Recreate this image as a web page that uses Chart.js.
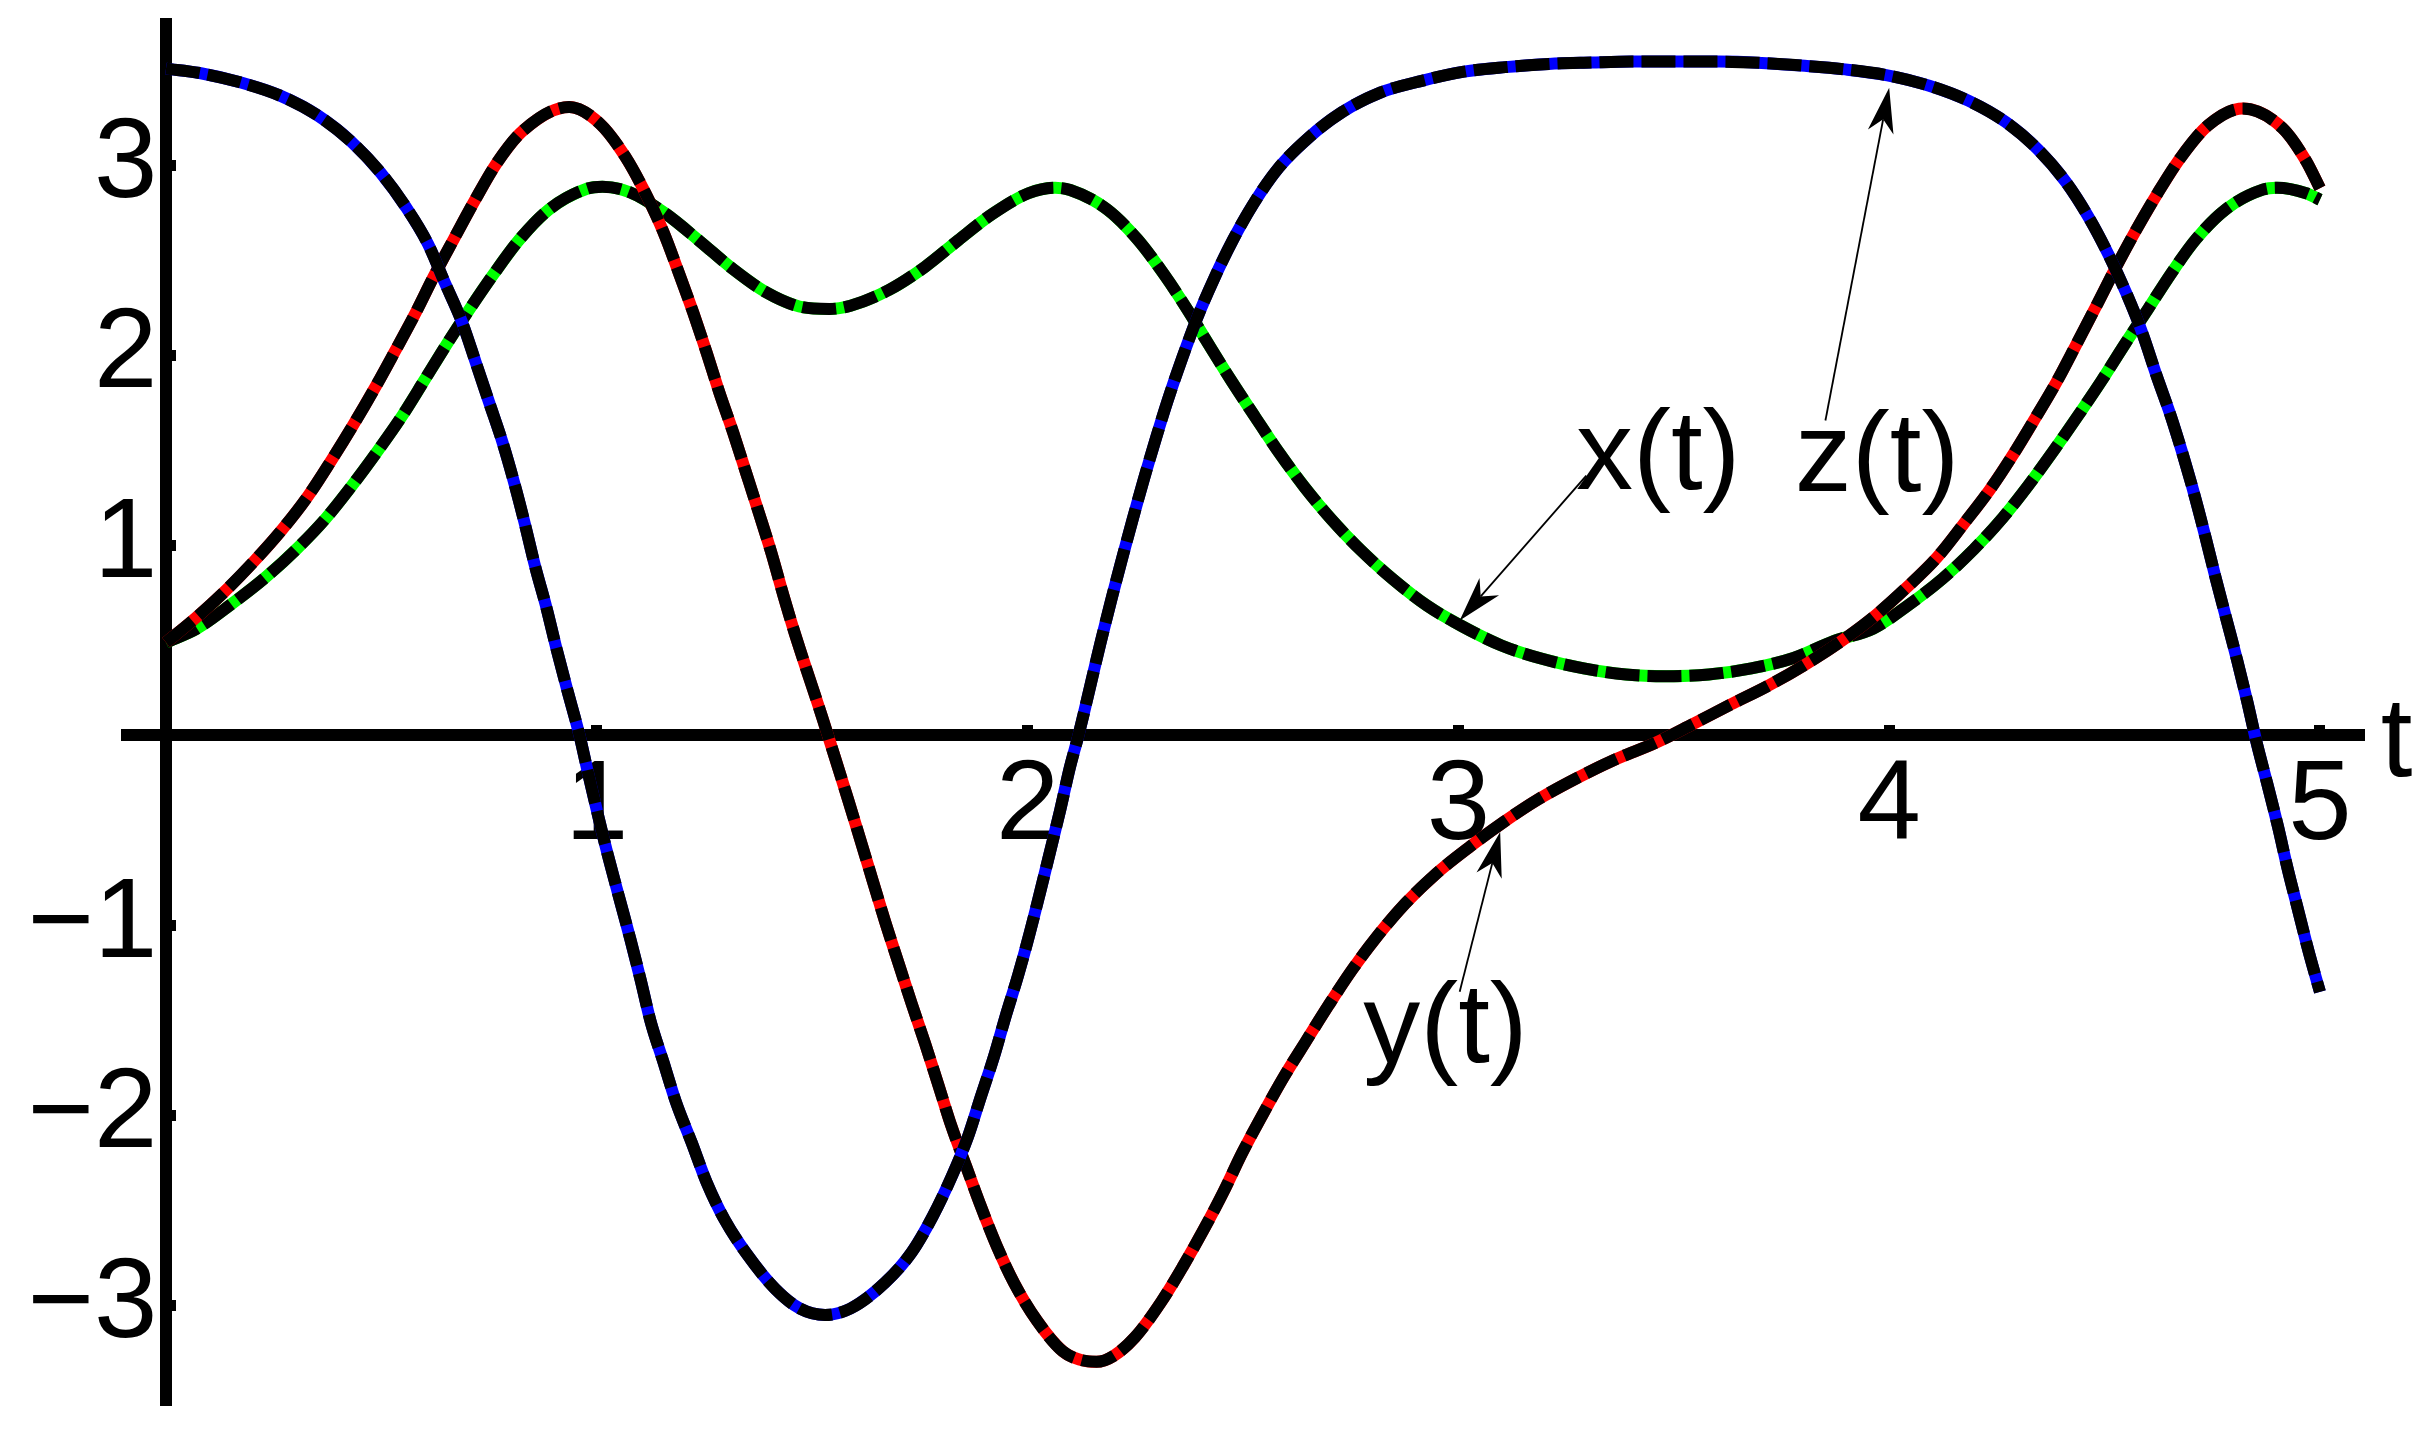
<!DOCTYPE html>
<html><head><meta charset="utf-8">
<script src="https://cdn.jsdelivr.net/npm/chart.js@4"></script>
<style>html,body{margin:0;padding:0;background:#fff;}canvas{display:block;}</style>
</head><body>
<canvas id="c" width="2433" height="1437"></canvas>
<script>
// ---- data ----
const xT = [0,0.072,0.151,0.229,0.303,0.371,0.433,0.492,0.548,0.599,0.652,0.705,0.761,0.821,0.889,0.977,1.013,1.078,1.161,1.24,1.316,1.392,1.47,1.54,1.589,1.679,1.762,1.839,1.918,2.002,2.064,2.099,2.185,2.255,2.317,2.37,2.421,2.473,2.529,2.584,2.643,2.705,2.773,2.847,2.927,3.007,3.1,3.192,3.291,3.389,3.482,3.581,3.68,3.778,3.871,3.963,4.043,4.123,4.197,4.265,4.324,4.382,4.438,4.493,4.546,4.601,4.654,4.712,4.781,4.867,4.9,4.968,5.0];
const xV = [0.49,0.563,0.69,0.828,0.981,1.143,1.319,1.5,1.682,1.867,2.061,2.245,2.43,2.612,2.769,2.878,2.889,2.858,2.745,2.6,2.455,2.334,2.258,2.245,2.262,2.346,2.467,2.607,2.745,2.854,2.883,2.871,2.769,2.612,2.426,2.245,2.056,1.867,1.674,1.488,1.307,1.138,0.976,0.824,0.684,0.577,0.474,0.405,0.353,0.321,0.312,0.321,0.353,0.408,0.497,0.563,0.684,0.824,0.981,1.15,1.319,1.5,1.682,1.867,2.056,2.245,2.43,2.612,2.769,2.873,2.883,2.854,2.82];

const yT = [0,0.06,0.133,0.204,0.267,0.329,0.383,0.433,0.484,0.531,0.578,0.622,0.669,0.717,0.767,0.829,0.936,1.007,1.066,1.113,1.155,1.19,1.224,1.255,1.285,1.317,1.347,1.376,1.406,1.433,1.46,1.522,1.552,1.583,1.61,1.641,1.669,1.7,1.731,1.762,1.793,1.823,1.857,1.891,1.928,1.969,2.022,2.082,2.12,2.16,2.2,2.249,2.31,2.36,2.409,2.455,2.498,2.545,2.594,2.646,2.699,2.754,2.813,2.877,2.949,3.028,3.106,3.186,3.275,3.365,3.458,3.544,3.632,3.72,3.807,3.889,3.967,4.041,4.111,4.173,4.234,4.287,4.339,4.389,4.435,4.481,4.527,4.573,4.623,4.676,4.74,4.82,4.913,4.968,5.0];
const yV = [0.49,0.601,0.751,0.916,1.077,1.258,1.445,1.628,1.826,2.02,2.218,2.418,2.617,2.817,3.01,3.184,3.308,3.221,3.047,2.854,2.648,2.438,2.225,2.015,1.802,1.592,1.38,1.174,0.956,0.739,0.535,0.105,-0.11,-0.335,-0.535,-0.768,-0.978,-1.196,-1.412,-1.621,-1.84,-2.055,-2.265,-2.475,-2.685,-2.883,-3.081,-3.242,-3.285,-3.297,-3.265,-3.168,-2.982,-2.797,-2.6,-2.401,-2.198,-1.998,-1.8,-1.61,-1.419,-1.231,-1.053,-0.884,-0.726,-0.583,-0.454,-0.335,-0.224,-0.125,-0.038,0.06,0.163,0.263,0.376,0.497,0.63,0.78,0.937,1.114,1.295,1.476,1.67,1.863,2.061,2.262,2.467,2.66,2.854,3.04,3.211,3.3,3.197,3.023,2.88];

const zT = [0,0.078,0.172,0.265,0.352,0.43,0.498,0.557,0.608,0.646,0.687,0.719,0.75,0.782,0.809,0.833,0.857,0.883,0.906,0.931,0.96,0.977,1.019,1.048,1.078,1.102,1.125,1.155,1.184,1.22,1.255,1.297,1.35,1.415,1.472,1.53,1.589,1.669,1.731,1.78,1.823,1.861,1.891,1.922,1.949,1.978,2.005,2.029,2.052,2.076,2.098,2.118,2.169,2.193,2.218,2.243,2.27,2.298,2.325,2.36,2.394,2.434,2.477,2.526,2.582,2.653,2.73,2.82,2.915,3.013,3.109,3.21,3.309,3.402,3.507,3.606,3.704,3.804,3.898,3.996,4.093,4.185,4.271,4.346,4.41,4.465,4.51,4.552,4.588,4.62,4.654,4.682,4.709,4.734,4.758,4.783,4.808,4.832,4.853,4.879,4.903,4.925,4.949,4.974,5.0];
const zV = [3.51,3.487,3.438,3.368,3.264,3.126,2.963,2.781,2.588,2.39,2.177,1.964,1.754,1.537,1.324,1.114,0.889,0.674,0.461,0.244,0,-0.17,-0.57,-0.82,-1.073,-1.288,-1.506,-1.721,-1.931,-2.141,-2.352,-2.55,-2.735,-2.915,-3.017,-3.05,-3.016,-2.88,-2.72,-2.53,-2.326,-2.116,-1.905,-1.69,-1.478,-1.263,-1.04,-0.825,-0.613,-0.39,-0.17,0,0.485,0.703,0.92,1.13,1.35,1.565,1.762,1.993,2.2,2.41,2.61,2.805,2.986,3.148,3.281,3.385,3.446,3.494,3.518,3.535,3.542,3.547,3.547,3.547,3.54,3.525,3.506,3.475,3.42,3.34,3.228,3.083,2.914,2.72,2.527,2.32,2.116,1.899,1.68,1.476,1.263,1.046,0.828,0.611,0.394,0.171,-0.038,-0.266,-0.484,-0.702,-0.917,-1.14,-1.35];

// tick labels
const tTickLabels = [1,2,3,4,5];
const vTickLabels = [-3,-2,-1,1,2,3];

// annotations (data coordinates)
const curveNames = ['x(t)','y(t)','z(t)'];
const nameT = [3.273, 2.779, 3.781];
const nameV = [1.295, -1.721, 1.289];
const tailT = [3.297, 3.003, 3.852];
const tailV = [1.368, -1.349, 1.658];
const tipT  = [3.003, 3.097, 4.0];
const tipV  = [0.605, -0.508, 3.409];
const axisName = 't';
const axisNameT = 5.141, axisNameV = -0.215;

// ---- chart ----
const FONT = 'Liberation Sans, Arial, Helvetica, sans-serif';
Chart.defaults.font.family = FONT;
Chart.defaults.color = '#000';

const pts = (T, V) => T.map((t, i) => ({x: t, y: V[i]}));
function pair(T, V, color, ord) {
  const common = {pointRadius: 0, borderWidth: 12, fill: false,
    cubicInterpolationMode: 'monotone', clip: false, borderCapStyle: 'butt'};
  return [
    Object.assign({}, common, {data: pts(T, V), borderColor: '#000', borderDash: [34, 8], order: ord}),
    Object.assign({}, common, {data: pts(T, V), borderColor: color, order: ord + 1})
  ];
}

const tFmt = v => tTickLabels.includes(v) ? String(v) : '';
const vFmt = v => vTickLabels.includes(v) ? (v < 0 ? '\u2212' + (-v) : String(v)) : '';
const noPad = s => { s.paddingTop = 0; s.paddingBottom = 0; s.paddingLeft = 0; s.paddingRight = 0; };

const annot = {
  id: 'annot',
  afterDatasetsDraw(chart) {
    const ctx = chart.ctx, xs = chart.scales.x, ys = chart.scales.y;
    ctx.save();
    ctx.fillStyle = '#000'; ctx.strokeStyle = '#000';
    for (let i = 0; i < curveNames.length; i++) {
      const x0 = xs.getPixelForValue(tailT[i]), y0 = ys.getPixelForValue(tailV[i]);
      const x1 = xs.getPixelForValue(tipT[i]), y1 = ys.getPixelForValue(tipV[i]);
      const a = Math.atan2(y1 - y0, x1 - x0), c = Math.cos(a), s = Math.sin(a);
      const L = 45, W = 13, N = 32;
      ctx.beginPath(); ctx.moveTo(x0, y0); ctx.lineTo(x1 - N * c, y1 - N * s);
      ctx.lineWidth = 1.8; ctx.stroke();
      ctx.beginPath(); ctx.moveTo(x1, y1);
      ctx.lineTo(x1 - L * c + W * s, y1 - L * s - W * c);
      ctx.lineTo(x1 - N * c, y1 - N * s);
      ctx.lineTo(x1 - L * c - W * s, y1 - L * s + W * c);
      ctx.closePath(); ctx.fill();
    }
    ctx.font = '114px ' + FONT;
    ctx.textAlign = 'left'; ctx.textBaseline = 'alphabetic';
    for (let i = 0; i < curveNames.length; i++) {
      ctx.fillText(curveNames[i], xs.getPixelForValue(nameT[i]), ys.getPixelForValue(nameV[i]));
    }
    ctx.fillText(axisName, xs.getPixelForValue(axisNameT), ys.getPixelForValue(axisNameV));
    ctx.restore();
  }
};

const XMIN = -0.0905, XMAX = 5.1022, YMIN = -3.524, YMAX = 3.745;
const axisGrid = {drawOnChartArea: false, drawTicks: true, tickLength: -16, tickWidth: 11, tickColor: '#000', lineWidth: 1};

new Chart(document.getElementById('c'), {
  type: 'line',
  data: {datasets: [
    ...pair(zT, zV, '#0000ff', 0),
    ...pair(yT, yV, '#ff0000', 2),
    ...pair(xT, xV, '#00ff00', 4)
  ]},
  options: {
    responsive: false, animation: false, devicePixelRatio: 1,
    layout: {padding: {left: 127, right: 69, top: 24, bottom: 32}},
    plugins: {legend: {display: false}, tooltip: {enabled: false}},
    scales: {
      x: {type: 'linear', min: XMIN, max: XMAX, position: {y: 0}, afterFit: noPad,
          border: {display: true, color: '#000', width: 12},
          grid: axisGrid,
          ticks: {stepSize: 1, includeBounds: false, autoSkip: false, maxRotation: 0, padding: 20,
                  font: {size: 114}, color: '#000', callback: tFmt}},
      y: {type: 'linear', min: YMIN, max: YMAX, position: {x: 0}, afterFit: noPad,
          border: {display: true, color: '#000', width: 12},
          grid: axisGrid,
          ticks: {display: false, stepSize: 1, includeBounds: false}},
      yl: {type: 'linear', axis: 'y', min: YMIN, max: YMAX, position: {x: -0.0197}, afterFit: noPad,
          border: {display: false}, grid: {display: false},
          ticks: {stepSize: 1, includeBounds: false, autoSkip: false, font: {size: 114}, color: '#000', callback: vFmt}}
    }
  },
  plugins: [annot]
});
</script>
</body></html>
